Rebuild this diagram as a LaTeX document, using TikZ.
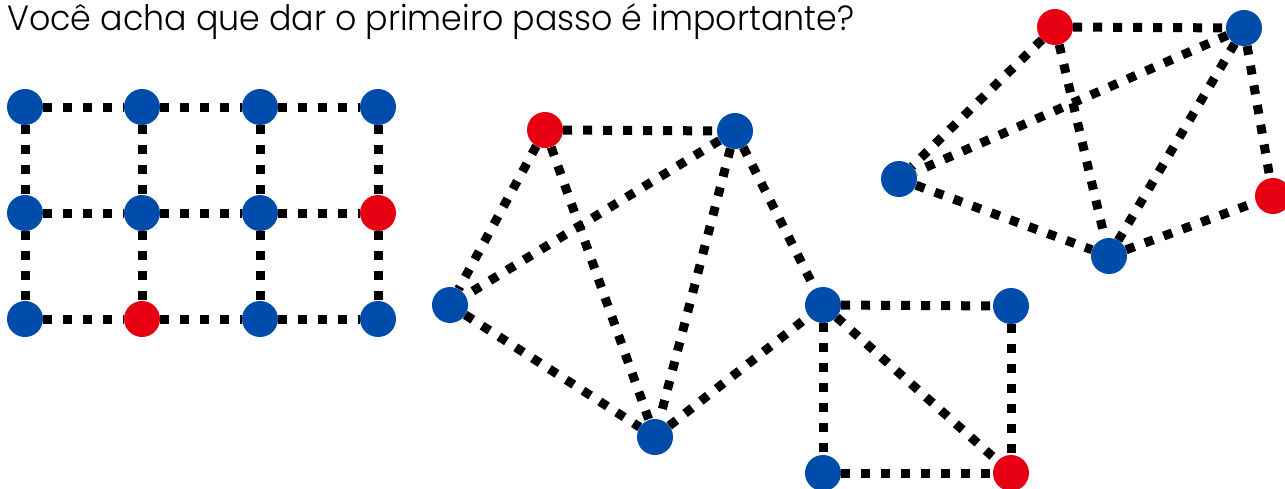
\documentclass[tikz,border=0pt]{standalone}
\usepackage{fontspec}
\setmainfont{Poppins}
\newfontfamily\titlefont{Poppins Light}
\usetikzlibrary{positioning}
\definecolor{nodeblue}{RGB}{0,76,170}
\definecolor{nodered}{RGB}{230,0,18}
\begin{document}
\begin{tikzpicture}[x=1pt,y=-1pt,
  vb/.style={circle,fill=nodeblue,minimum size=36pt,inner sep=0pt},
  vr/.style={circle,fill=nodered,minimum size=36pt,inner sep=0pt},
  link/.style={line width=9pt,dash pattern=on 9pt off 11pt,black}]
\useasboundingbox (0,0) rectangle (1285,488);
\node[anchor=base west,inner sep=0pt,font=\titlefont\fontsize{35pt}{40pt}\selectfont] (title) at (7,30) {\scalebox{0.95}[1]{Você acha que dar o primeiro passo é importante?}};
% grid
\node[vb] (g11) at (25,107) {};
\node[vb] (g12) at (142,107) {};
\node[vb] (g13) at (260,107) {};
\node[vb] (g14) at (378,107) {};
\node[vb] (g21) at (25,213) {};
\node[vb] (g22) at (142,213) {};
\node[vb] (g23) at (260,213) {};
\node[vr] (g24) at (378,213) {};
\node[vb] (g31) at (25,319) {};
\node[vr] (g32) at (142,319) {};
\node[vb] (g33) at (260,319) {};
\node[vb] (g34) at (378,319) {};
\foreach \r in {1,2,3}{
  \draw[link] (g\r1) -- (g\r2);
  \draw[link] (g\r2) -- (g\r3);
  \draw[link] (g\r3) -- (g\r4);}
\foreach \c in {1,2,3,4}{
  \draw[link] (g1\c) -- (g2\c);
  \draw[link] (g2\c) -- (g3\c);}
% middle cluster
\node[vr] (m1) at (545,130) {};
\node[vb] (m2) at (735,131) {};
\node[vb] (m3) at (450,305) {};
\node[vb] (m4) at (655,437) {};
\node[vb] (m5) at (823,305) {};
\draw[link] (m1) -- (m2);
\draw[link] (m1) -- (m3);
\draw[link] (m1) -- (m4);
\draw[link] (m2) -- (m3);
\draw[link] (m2) -- (m4);
\draw[link] (m2) -- (m5);
\draw[link] (m3) -- (m4);
\draw[link] (m4) -- (m5);
% bottom square
\node[vb] (s2) at (1011,306) {};
\node[vb] (s3) at (823,473) {};
\node[vr] (s4) at (1011,473) {};
\draw[link] (m5) -- (s2);
\draw[link] (m5) -- (s3);
\draw[link] (m5) -- (s4);
\draw[link] (s2) -- (s4);
\draw[link] (s3) -- (s4);
% top right cluster
\node[vr] (t1) at (1055,27) {};
\node[vb] (t2) at (1244,28) {};
\node[vb] (t3) at (899,179) {};
\node[vr] (t4) at (1273,196) {};
\node[vb] (t5) at (1109,256) {};
\draw[link] (t1) -- (t2);
\draw[link] (t1) -- (t3);
\draw[link] (t1) -- (t5);
\draw[link] (t2) -- (t3);
\draw[link] (t2) -- (t5);
\draw[link] (t2) -- (t4);
\draw[link] (t3) -- (t5);
\draw[link] (t5) -- (t4);
\end{tikzpicture}
\end{document}
